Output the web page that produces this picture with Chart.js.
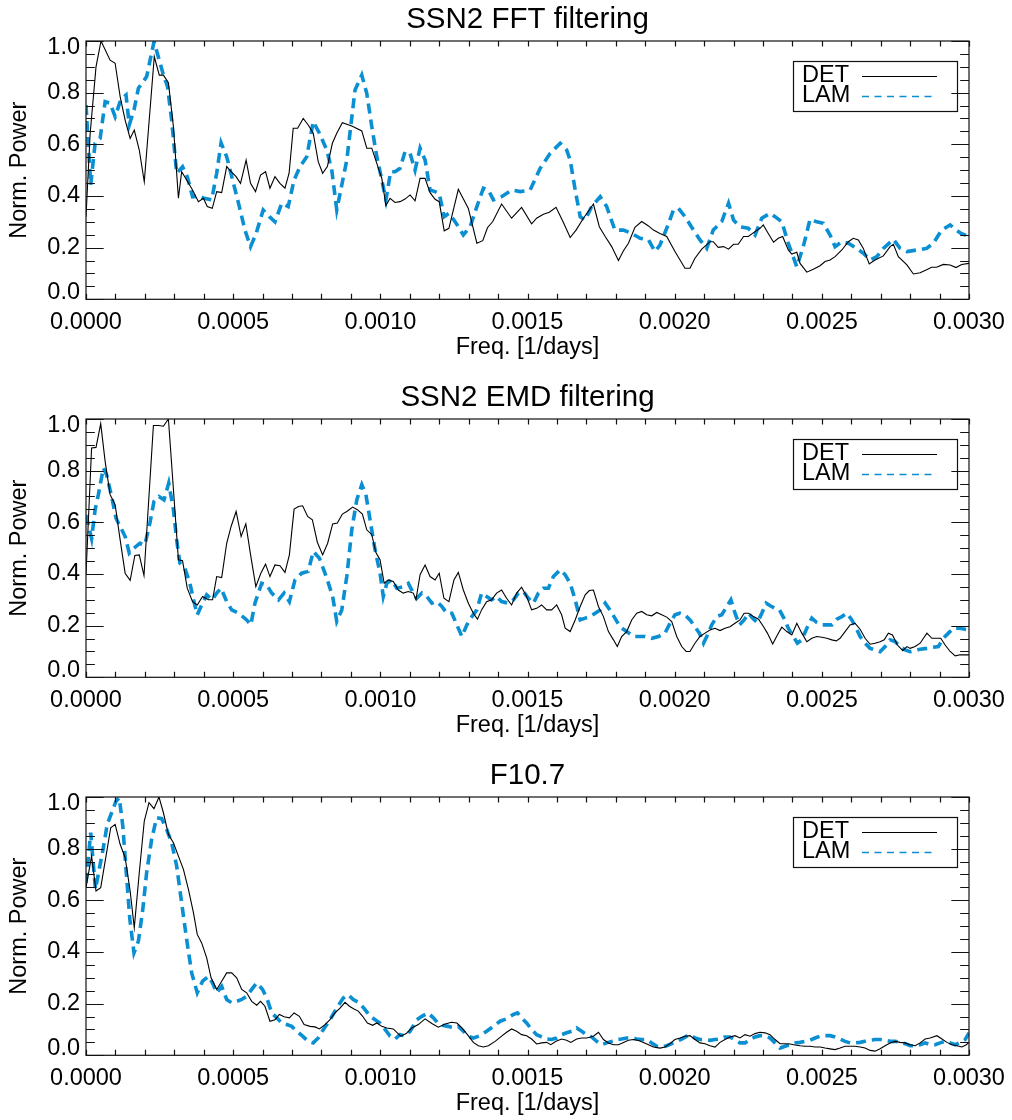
<!DOCTYPE html>
<html><head><meta charset="utf-8">
<script src="https://cdn.jsdelivr.net/npm/chart.js@4.4.1/dist/chart.umd.min.js"></script>
<style>
html,body{margin:0;padding:0;background:#fff;}
#wrap{position:relative;width:1012px;height:1120px;overflow:hidden;background:#fff;}
.panel{position:absolute;left:0;width:1012px;height:378px;}
</style></head><body>
<div id="wrap">
<div class="panel" style="top:0px"><canvas id="c0" width="1012" height="378"></canvas></div>
<div class="panel" style="top:378px"><canvas id="c1" width="1012" height="378"></canvas></div>
<div class="panel" style="top:756px"><canvas id="c2" width="1012" height="378"></canvas></div>
</div>
<script>
// ---------- DATA (frequency in units of 1e-4 1/days) ----------
const panelTitles = ['SSN2 FFT filtering', 'SSN2 EMD filtering', 'F10.7'];
const seriesLabels = ['DET', 'LAM'];
const xTickStep = 5;      // 0.0005
const yTickStep = 0.2;

// Panel 1: SSN2 FFT filtering
const fftDetFreq = [0,0.14,0.34,0.51,0.82,0.99,1.16,1.33,1.50,1.64,1.81,1.98,2.32,2.49,2.63,2.80,2.97,3.14,3.25,3.42,3.62,3.82,3.99,4.12,4.29,4.44,4.61,4.78,4.93,5.10,5.25,5.44,5.59,5.76,5.93,6.10,6.25,6.42,6.59,6.76,6.90,7.04,7.19,7.38,7.55,7.72,7.89,8.04,8.20,8.37,8.52,8.71,9.03,9.37,9.54,9.71,9.88,10.05,10.19,10.33,10.50,10.67,10.84,11.01,11.18,11.35,11.52,11.69,11.86,12.00,12.17,12.33,12.65,12.99,13.28,13.48,13.64,13.82,14.12,14.46,14.80,15.14,15.31,15.54,15.74,15.97,16.22,16.45,16.65,16.90,17.24,17.44,17.64,17.86,18.09,18.26,18.43,18.65,18.88,19.11,19.28,19.50,19.73,20.01,20.35,20.52,20.69,20.92,21.20,21.31,21.48,21.66,21.83,22.00,22.16,22.34,22.50,22.73,22.90,23.01,23.18,23.36,23.52,23.67,23.86,23.98,24.15,24.26,24.49,24.71,24.94,25.11,25.28,25.45,25.68,25.90,26.07,26.24,26.41,26.61,26.81,27.09,27.32,27.43,27.60,27.89,28.11,28.34,28.56,28.73,28.90,29.13,29.36,29.56,29.75,30.0];
const fftDetPower = [0.32,0.64,0.90,1.0,0.926,0.914,0.785,0.694,0.623,0.655,0.578,0.455,0.94,0.868,0.868,0.839,0.668,0.391,0.494,0.462,0.423,0.378,0.391,0.359,0.352,0.417,0.413,0.514,0.494,0.475,0.449,0.539,0.449,0.417,0.481,0.494,0.43,0.475,0.449,0.43,0.488,0.662,0.662,0.70,0.675,0.643,0.533,0.488,0.514,0.604,0.643,0.684,0.671,0.652,0.585,0.585,0.526,0.468,0.363,0.391,0.375,0.378,0.388,0.404,0.381,0.468,0.468,0.413,0.387,0.378,0.265,0.275,0.426,0.352,0.217,0.227,0.277,0.301,0.369,0.314,0.356,0.292,0.314,0.329,0.337,0.356,0.297,0.239,0.268,0.314,0.369,0.281,0.243,0.204,0.150,0.188,0.217,0.279,0.301,0.284,0.268,0.255,0.243,0.185,0.120,0.120,0.159,0.194,0.223,0.223,0.201,0.204,0.194,0.213,0.213,0.243,0.243,0.262,0.275,0.288,0.255,0.221,0.236,0.243,0.191,0.175,0.182,0.139,0.105,0.116,0.130,0.146,0.152,0.165,0.191,0.223,0.236,0.230,0.197,0.137,0.152,0.168,0.204,0.213,0.165,0.133,0.098,0.103,0.114,0.124,0.124,0.135,0.133,0.123,0.135,0.139];
const fftLamFreq = [0,0.16,0.31,0.48,0.65,0.82,0.99,1.18,1.36,1.47,1.63,1.78,2.06,2.31,2.49,2.63,2.77,2.91,3.08,3.28,3.44,3.62,3.84,4.01,4.27,4.44,4.59,4.78,5.01,5.21,5.40,5.59,5.78,6.02,6.23,6.42,6.65,6.87,7.07,7.27,7.50,7.72,7.93,8.18,8.35,8.52,8.86,9.14,9.37,9.54,9.71,9.88,10.05,10.19,10.35,10.50,10.67,10.84,11.01,11.18,11.35,11.52,11.69,11.86,12.00,12.17,12.33,12.50,12.65,12.82,13.05,13.28,13.50,13.67,13.84,14.12,14.46,14.75,15.09,15.43,15.77,16.11,16.33,16.45,16.62,16.79,16.96,17.18,17.47,17.69,17.97,18.26,18.54,18.83,19.11,19.33,19.50,19.73,19.96,20.13,20.35,20.64,20.86,21.09,21.31,21.60,21.83,22.00,22.22,22.50,22.73,22.96,23.24,23.41,23.64,23.86,24.15,24.37,24.60,24.83,25.05,25.28,25.45,25.68,25.90,26.19,26.41,26.64,26.87,27.09,27.43,27.66,27.89,28.23,28.56,28.79,29.07,29.36,29.56,29.73,30.0];
const fftLamPower = [0.752,0.443,0.604,0.623,0.765,0.759,0.707,0.772,0.791,0.675,0.733,0.817,0.862,0.997,0.926,0.868,0.823,0.694,0.488,0.513,0.475,0.397,0.40,0.391,0.385,0.488,0.606,0.552,0.449,0.359,0.268,0.204,0.255,0.346,0.32,0.30,0.372,0.359,0.462,0.513,0.552,0.688,0.643,0.578,0.50,0.346,0.539,0.81,0.868,0.797,0.668,0.552,0.462,0.385,0.494,0.494,0.507,0.572,0.565,0.50,0.585,0.539,0.423,0.417,0.41,0.32,0.333,0.307,0.281,0.249,0.281,0.359,0.43,0.423,0.385,0.397,0.423,0.417,0.423,0.507,0.565,0.604,0.578,0.539,0.423,0.32,0.307,0.359,0.397,0.359,0.268,0.268,0.255,0.236,0.230,0.185,0.21,0.275,0.346,0.352,0.32,0.268,0.230,0.197,0.268,0.301,0.372,0.307,0.281,0.275,0.249,0.314,0.333,0.32,0.30,0.217,0.126,0.204,0.31,0.30,0.294,0.249,0.204,0.223,0.217,0.197,0.178,0.152,0.165,0.197,0.232,0.197,0.185,0.191,0.197,0.217,0.268,0.288,0.268,0.255,0.243];

// Panel 2: SSN2 EMD filtering
const emdDetFreq = [0,0.19,0.34,0.50,0.65,0.82,0.99,1.16,1.33,1.50,1.66,1.81,1.97,2.29,2.46,2.63,2.80,3.14,3.28,3.44,3.62,3.78,3.96,4.16,4.30,4.44,4.61,4.78,4.93,5.10,5.27,5.43,5.60,5.77,5.94,6.10,6.25,6.42,6.59,6.76,6.91,7.07,7.22,7.36,7.53,7.69,7.86,8.04,8.21,8.38,8.54,8.71,8.86,9.06,9.22,9.39,9.54,9.71,9.85,9.99,10.13,10.27,10.44,10.61,10.78,10.95,11.12,11.21,11.35,11.52,11.69,11.86,12.00,12.16,12.33,12.50,12.65,12.82,12.99,13.16,13.30,13.44,13.61,13.78,13.95,14.12,14.29,14.46,14.63,14.80,14.97,15.14,15.31,15.48,15.65,15.82,15.99,16.16,16.28,16.45,16.62,16.79,16.96,17.10,17.24,17.41,17.58,17.75,17.92,18.05,18.20,18.37,18.54,18.71,18.88,19.05,19.22,19.39,19.56,19.73,19.90,20.07,20.24,20.39,20.52,20.69,20.86,21.03,21.20,21.37,21.54,21.71,21.88,22.05,22.22,22.36,22.51,22.68,22.85,23.02,23.15,23.33,23.49,23.64,23.81,23.98,24.15,24.32,24.49,24.66,24.83,25.00,25.17,25.34,25.49,25.62,25.79,25.96,26.13,26.30,26.47,26.64,26.81,26.98,27.12,27.26,27.40,27.57,27.75,27.89,28.00,28.17,28.34,28.57,28.74,28.91,29.04,29.19,29.36,29.53,29.70,30.0];
const emdDetPower = [0.40,0.888,0.89,0.982,0.836,0.707,0.668,0.532,0.403,0.375,0.472,0.474,0.394,0.975,0.975,0.972,1.0,0.455,0.451,0.345,0.293,0.28,0.313,0.30,0.30,0.39,0.386,0.519,0.584,0.642,0.545,0.594,0.468,0.351,0.403,0.438,0.39,0.435,0.432,0.406,0.474,0.651,0.661,0.664,0.623,0.61,0.523,0.474,0.519,0.594,0.597,0.632,0.642,0.659,0.649,0.632,0.571,0.552,0.483,0.455,0.364,0.377,0.371,0.338,0.326,0.332,0.326,0.30,0.397,0.435,0.39,0.377,0.403,0.306,0.293,0.377,0.406,0.338,0.287,0.248,0.225,0.261,0.293,0.30,0.326,0.338,0.306,0.28,0.326,0.349,0.313,0.261,0.267,0.28,0.261,0.261,0.28,0.242,0.19,0.177,0.222,0.274,0.319,0.336,0.338,0.274,0.235,0.177,0.145,0.119,0.158,0.177,0.222,0.248,0.255,0.242,0.238,0.251,0.242,0.233,0.216,0.158,0.119,0.10,0.10,0.132,0.158,0.171,0.183,0.19,0.181,0.19,0.196,0.209,0.222,0.248,0.248,0.235,0.225,0.196,0.171,0.129,0.164,0.194,0.177,0.164,0.209,0.171,0.138,0.151,0.158,0.155,0.151,0.145,0.141,0.151,0.177,0.203,0.209,0.186,0.151,0.128,0.132,0.138,0.145,0.171,0.164,0.125,0.103,0.119,0.112,0.119,0.132,0.171,0.151,0.151,0.151,0.125,0.10,0.083,0.087,0.087];
const emdLamFreq = [0,0.19,0.31,0.42,0.59,0.70,0.87,1.02,1.16,1.33,1.47,1.63,1.83,2.00,2.17,2.31,2.48,2.65,2.81,2.97,3.08,3.19,3.36,3.53,3.68,3.78,3.93,4.10,4.29,4.44,4.59,4.78,4.95,5.18,5.46,5.60,5.74,5.97,6.14,6.31,6.54,6.73,6.91,7.10,7.33,7.55,7.72,7.93,8.18,8.38,8.52,8.69,8.86,9.03,9.20,9.37,9.51,9.65,9.82,9.99,10.10,10.22,10.39,10.56,10.78,10.95,11.12,11.24,11.41,11.58,11.75,11.92,12.09,12.26,12.43,12.60,12.77,12.94,13.11,13.28,13.44,13.61,13.78,13.95,14.12,14.35,14.52,14.69,14.86,15.03,15.20,15.37,15.54,15.71,15.88,16.11,16.28,16.45,16.62,16.79,16.96,17.13,17.30,17.47,17.64,17.80,17.97,18.14,18.37,18.60,18.82,18.99,19.22,19.45,19.67,19.84,20.01,20.18,20.35,20.52,20.69,20.84,20.98,21.09,21.26,21.43,21.60,21.77,21.91,22.05,22.20,22.36,22.51,22.65,22.81,22.96,23.11,23.26,23.41,23.56,23.71,23.86,24.03,24.17,24.32,24.49,24.66,24.83,25.00,25.17,25.34,25.51,25.68,25.85,26.02,26.17,26.30,26.47,26.64,26.81,26.98,27.15,27.32,27.49,27.66,27.83,28.00,28.17,28.34,28.57,28.79,28.96,29.13,29.30,29.47,29.70,30.0];
const emdLamPower = [0.628,0.537,0.649,0.707,0.81,0.784,0.70,0.616,0.584,0.545,0.481,0.50,0.519,0.513,0.597,0.681,0.70,0.687,0.752,0.649,0.532,0.442,0.422,0.364,0.287,0.242,0.28,0.319,0.30,0.326,0.345,0.293,0.261,0.248,0.222,0.203,0.287,0.364,0.358,0.326,0.30,0.326,0.293,0.377,0.403,0.41,0.487,0.461,0.384,0.313,0.216,0.261,0.39,0.571,0.687,0.746,0.707,0.61,0.494,0.403,0.313,0.364,0.377,0.345,0.351,0.364,0.326,0.306,0.326,0.313,0.287,0.293,0.274,0.248,0.248,0.203,0.158,0.203,0.235,0.261,0.326,0.313,0.30,0.313,0.293,0.287,0.30,0.326,0.332,0.306,0.287,0.326,0.345,0.345,0.39,0.416,0.397,0.364,0.30,0.222,0.229,0.235,0.248,0.261,0.287,0.261,0.229,0.196,0.177,0.158,0.158,0.158,0.151,0.158,0.171,0.209,0.242,0.248,0.242,0.222,0.196,0.171,0.132,0.158,0.203,0.235,0.242,0.274,0.30,0.248,0.203,0.222,0.248,0.229,0.212,0.248,0.287,0.276,0.267,0.261,0.229,0.19,0.158,0.132,0.145,0.19,0.229,0.212,0.203,0.203,0.203,0.225,0.235,0.248,0.222,0.19,0.158,0.132,0.112,0.106,0.099,0.119,0.145,0.138,0.119,0.106,0.099,0.103,0.109,0.112,0.116,0.119,0.151,0.171,0.19,0.19,0.183];

// Panel 3: F10.7
const f107DetFreq = [0,0.19,0.34,0.50,0.68,0.84,0.99,1.16,1.33,1.50,1.64,1.81,1.98,2.14,2.31,2.48,2.63,2.80,2.97,3.14,3.31,3.48,3.65,3.78,3.93,4.10,4.25,4.44,4.61,4.78,4.95,5.12,5.29,5.46,5.63,5.80,5.93,6.08,6.25,6.42,6.57,6.73,6.91,7.07,7.25,7.41,7.61,7.78,7.93,8.12,8.29,8.46,8.63,8.80,8.95,9.09,9.25,9.40,9.56,9.74,9.88,10.05,10.22,10.44,10.69,10.88,11.07,11.29,11.52,11.75,11.97,12.20,12.42,12.60,12.77,12.96,13.16,13.33,13.50,13.67,13.90,14.12,14.29,14.46,14.63,14.80,14.97,15.14,15.31,15.48,15.65,15.79,15.97,16.16,16.33,16.47,16.67,16.84,17.01,17.24,17.41,17.58,17.75,17.92,18.09,18.26,18.43,18.60,18.77,18.94,19.11,19.28,19.50,19.67,19.84,20.01,20.18,20.35,20.52,20.69,20.86,21.03,21.20,21.37,21.54,21.71,21.88,22.05,22.22,22.39,22.56,22.73,22.90,23.07,23.24,23.41,23.58,23.75,23.92,24.09,24.26,24.43,24.60,24.77,24.94,25.11,25.28,25.45,25.62,25.79,25.96,26.13,26.30,26.47,26.64,26.81,26.98,27.15,27.32,27.49,27.66,27.83,28.00,28.17,28.34,28.51,28.68,28.91,29.08,29.25,29.42,29.59,29.76,29.91,30.0];
const f107DetPower = [0.65,0.771,0.636,0.649,0.771,0.881,0.894,0.817,0.765,0.636,0.494,0.707,0.907,0.978,0.955,1.0,0.939,0.855,0.823,0.771,0.72,0.642,0.552,0.468,0.435,0.377,0.30,0.255,0.287,0.319,0.319,0.30,0.255,0.242,0.209,0.194,0.209,0.19,0.132,0.138,0.158,0.149,0.145,0.164,0.151,0.119,0.112,0.11,0.102,0.119,0.138,0.164,0.183,0.205,0.19,0.18,0.171,0.151,0.125,0.116,0.125,0.112,0.106,0.102,0.074,0.084,0.106,0.119,0.141,0.123,0.109,0.121,0.128,0.125,0.106,0.08,0.05,0.037,0.032,0.037,0.054,0.074,0.089,0.102,0.093,0.08,0.076,0.063,0.044,0.048,0.05,0.041,0.054,0.063,0.058,0.05,0.063,0.067,0.067,0.074,0.089,0.061,0.048,0.041,0.041,0.05,0.058,0.061,0.057,0.05,0.041,0.032,0.028,0.032,0.045,0.061,0.067,0.074,0.076,0.061,0.048,0.045,0.037,0.032,0.05,0.061,0.071,0.076,0.067,0.08,0.074,0.084,0.089,0.087,0.08,0.061,0.045,0.045,0.044,0.04,0.037,0.035,0.035,0.032,0.032,0.028,0.025,0.022,0.028,0.035,0.035,0.035,0.032,0.028,0.019,0.016,0.025,0.037,0.048,0.054,0.05,0.048,0.041,0.037,0.048,0.063,0.067,0.076,0.063,0.05,0.041,0.037,0.032,0.041,0.05];
const f107LamFreq = [0,0.16,0.32,0.45,0.59,0.72,0.87,1.02,1.13,1.25,1.36,1.49,1.63,1.78,1.93,2.06,2.23,2.40,2.57,2.74,2.91,3.08,3.25,3.42,3.59,3.78,3.96,4.16,4.30,4.44,4.61,4.78,4.95,5.12,5.29,5.46,5.63,5.80,6.00,6.16,6.31,6.48,6.65,6.82,6.99,7.16,7.36,7.55,7.72,7.89,8.06,8.29,8.52,8.74,8.91,9.08,9.29,9.48,9.65,9.82,9.99,10.16,10.33,10.50,10.67,10.84,11.01,11.24,11.41,11.63,11.80,11.97,12.14,12.31,12.48,12.65,12.82,12.99,13.16,13.39,13.61,13.84,14.07,14.29,14.52,14.66,14.80,14.97,15.14,15.31,15.48,15.65,15.82,15.99,16.16,16.33,16.50,16.67,16.84,17.01,17.18,17.35,17.52,17.69,17.86,18.03,18.20,18.37,18.54,18.71,18.88,19.05,19.22,19.39,19.56,19.73,19.90,20.07,20.24,20.41,20.52,20.69,20.86,21.03,21.20,21.37,21.54,21.71,21.88,22.05,22.22,22.39,22.56,22.73,22.90,23.07,23.24,23.41,23.58,23.75,23.92,24.09,24.26,24.43,24.60,24.77,24.94,25.11,25.28,25.45,25.62,25.79,25.96,26.13,26.30,26.47,26.64,26.81,26.98,27.15,27.32,27.49,27.66,27.83,28.00,28.17,28.34,28.51,28.68,28.85,29.02,29.19,29.36,29.53,29.70,29.87,30.0];
const f107LamPower = [0.668,0.862,0.643,0.72,0.804,0.894,0.939,0.984,0.997,0.888,0.72,0.526,0.397,0.442,0.565,0.707,0.836,0.92,0.916,0.875,0.823,0.733,0.59,0.448,0.319,0.242,0.287,0.306,0.28,0.242,0.267,0.216,0.203,0.209,0.216,0.229,0.255,0.28,0.255,0.216,0.164,0.145,0.125,0.119,0.112,0.093,0.074,0.054,0.048,0.067,0.099,0.138,0.183,0.222,0.235,0.216,0.203,0.177,0.151,0.138,0.125,0.10,0.074,0.063,0.08,0.074,0.093,0.138,0.151,0.164,0.145,0.123,0.115,0.112,0.106,0.112,0.093,0.074,0.067,0.076,0.093,0.112,0.132,0.141,0.158,0.164,0.145,0.125,0.10,0.08,0.071,0.063,0.061,0.067,0.08,0.087,0.093,0.106,0.093,0.08,0.071,0.054,0.041,0.048,0.054,0.061,0.063,0.067,0.067,0.063,0.061,0.061,0.048,0.035,0.032,0.037,0.045,0.054,0.063,0.074,0.08,0.067,0.061,0.061,0.058,0.061,0.063,0.071,0.071,0.061,0.048,0.048,0.061,0.071,0.076,0.076,0.067,0.048,0.028,0.035,0.041,0.048,0.05,0.054,0.058,0.067,0.074,0.076,0.076,0.071,0.063,0.054,0.048,0.048,0.05,0.054,0.058,0.061,0.061,0.058,0.054,0.054,0.05,0.045,0.037,0.037,0.041,0.048,0.041,0.041,0.048,0.054,0.048,0.041,0.05,0.061,0.087];

// ---------- STYLE ----------
const FONT = "'Liberation Sans', Arial, Helvetica, sans-serif";
const BLUE = '#0b8fd3';
const X_MINOR = 1;      // 0.0001
const Y_MINOR = 0.05;

function toPoints(fs, ps) { return fs.map((f, i) => ({x: f, y: ps[i]})); }

const idlFrame = {
  id: 'idlFrame',
  afterDraw(chart) {
    const {ctx, chartArea: a, scales: {x, y}} = chart;
    const W = a.right - a.left, H = a.bottom - a.top;
    ctx.save();
    ctx.strokeStyle = '#111';
    ctx.lineWidth = 1.2;
    ctx.strokeRect(a.left, a.top, W, H);
    ctx.beginPath();
    const xLen = 5.5;
    for (let k = 0; x.min + k * X_MINOR <= x.max + 1e-9; k++) {
      const px = Math.round(x.getPixelForValue(x.min + k * X_MINOR)) + 0.5;
      ctx.moveTo(px, a.bottom); ctx.lineTo(px, a.bottom - xLen);
      ctx.moveTo(px, a.top); ctx.lineTo(px, a.top + xLen);
    }
    const yMaj = 0.02 * W;
    for (let k = 0; y.min + k * Y_MINOR <= y.max + 1e-9; k++) {
      const v = y.min + k * Y_MINOR;
      const major = (k % 4) === 0;
      const len = major ? yMaj : yMaj / 2;
      const py = Math.round(y.getPixelForValue(v)) + 0.5;
      ctx.moveTo(a.left, py); ctx.lineTo(a.left + len, py);
      ctx.moveTo(a.right, py); ctx.lineTo(a.right - len, py);
    }
    ctx.stroke();
    // y tick labels (end labels nudged inward as in the original)
    ctx.fillStyle = '#000';
    ctx.font = '23.5px ' + FONT;
    ctx.textAlign = 'right';
    ctx.textBaseline = 'middle';
    const n = y.ticks.length;
    y.ticks.forEach((t, i) => {
      let py = y.getPixelForValue(t.value);
      if (i === 0) py -= 7;
      if (i === n - 1) py += 7;
      ctx.fillText(t.value.toFixed(1), a.left - 6, py);
    });
    // legend box
    const L = {x: a.right - 176, y: a.top + 20, w: 164, h: 50};
    ctx.lineWidth = 1.2;
    ctx.strokeStyle = '#111';
    ctx.strokeRect(L.x + 0.5, L.y + 0.5, L.w, L.h);
    ctx.textAlign = 'left';
    ctx.textBaseline = 'alphabetic';
    chart.data.datasets.forEach((ds, i) => {
      ctx.fillStyle = '#000';
      ctx.fillText(ds.label, L.x + 9, L.y + 21 + i * 19.5);
      ctx.beginPath();
      ctx.strokeStyle = ds.borderColor;
      ctx.lineWidth = Math.min(ds.borderWidth, 1.6);
      ctx.setLineDash(ds.borderDash ? [7, 5.5] : []);
      const ly = L.y + 15.5 + i * 20;
      ctx.moveTo(L.x + 69, ly);
      ctx.lineTo(L.x + (ds.borderDash ? 140 : 144), ly);
      ctx.stroke();
      ctx.setLineDash([]);
    });
    ctx.restore();
  }
};

function makeChart(id, title, detF, detP, lamF, lamP) {
  return new Chart(document.getElementById(id), {
    type: 'line',
    data: {
      datasets: [
        {label: seriesLabels[0], data: toPoints(detF, detP), borderColor: '#000', borderWidth: 1.1,
         pointRadius: 0, tension: 0, fill: false},
        {label: seriesLabels[1], data: toPoints(lamF, lamP), borderColor: BLUE, borderWidth: 3.6,
         borderDash: [10, 6], pointRadius: 0, tension: 0, fill: false}
      ]
    },
    options: {
      responsive: false,
      animation: false,
      layout: {padding: {left: 0, right: 43, top: 0, bottom: 0}},
      plugins: {
        legend: {display: false},
        tooltip: {enabled: false},
        title: {display: true, fullSize: false, text: title, color: '#000',
                font: {family: FONT, size: 29.5, weight: 'normal', lineHeight: 1},
                padding: {top: 5, bottom: 6.5}}
      },
      scales: {
        x: {
          type: 'linear', min: 0, max: 30,
          grid: {display: false, drawTicks: false},
          border: {display: false},
          afterFit(s) { s.height = 78.7; s.paddingLeft = 0; s.paddingRight = 0; },
          ticks: {stepSize: xTickStep, autoSkip: false, maxRotation: 0, minRotation: 0, color: '#000',
                  font: {family: FONT, size: 23.5}, padding: 9,
                  callback: v => (v * 1e-4).toFixed(4)},
          title: {display: true, text: 'Freq. [1/days]', color: '#000',
                  font: {family: FONT, size: 23.5}, padding: {top: 0, bottom: 16}}
        },
        y: {
          type: 'linear', min: 0, max: 1,
          grid: {display: false, drawTicks: false},
          border: {display: false},
          afterFit(s) { s.width = 86; },
          ticks: {stepSize: yTickStep, display: false},
          title: {display: true, text: 'Norm. Power', color: '#000',
                  font: {family: FONT, size: 23.5}, padding: {top: 5, bottom: 0}}
        }
      }
    },
    plugins: [idlFrame]
  });
}

makeChart('c0', panelTitles[0], fftDetFreq, fftDetPower, fftLamFreq, fftLamPower);
makeChart('c1', panelTitles[1], emdDetFreq, emdDetPower, emdLamFreq, emdLamPower);
makeChart('c2', panelTitles[2], f107DetFreq, f107DetPower, f107LamFreq, f107LamPower);
</script>
</body></html>
